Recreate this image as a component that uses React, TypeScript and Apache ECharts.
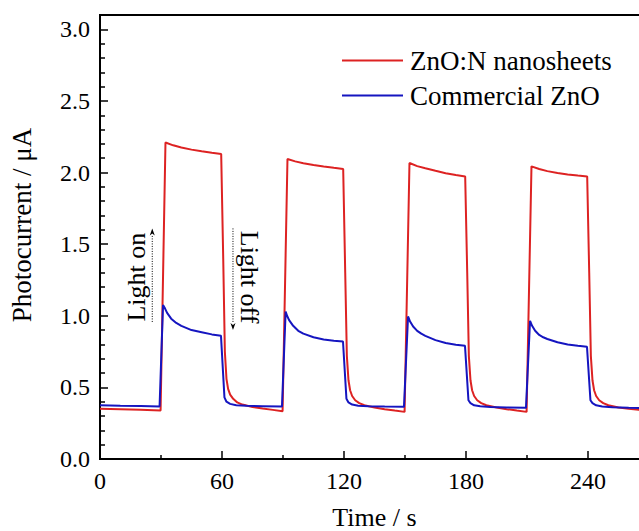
import React, { useEffect, useRef } from "react";
import * as echarts from "echarts";

// ZnO:N nanosheets (red)
const redTime = [
  0, 10, 20, 29.8, 32.2, 36, 40, 45, 50, 55, 59.6,
  60.6, 61.4, 62.2, 63, 64, 65.5, 67.5, 70, 75, 80, 85, 89.8,
  92.2, 96, 100, 105, 110, 115, 119.6,
  120.6, 121.4, 122.2, 123, 124, 125.5, 127.5, 130, 135, 140, 145, 149.8,
  152.2, 156, 160, 165, 170, 175, 179.6,
  180.6, 181.4, 182.2, 183, 184, 185.5, 187.5, 190, 195, 200, 205, 209.8,
  212.2, 216, 220, 225, 230, 235, 239.6,
  240.6, 241.4, 242.2, 243, 244, 245.5, 247.5, 250, 255, 260, 265, 270,
];
const redValue = [
  0.35, 0.347, 0.343, 0.338, 2.21, 2.19, 2.175, 2.16, 2.148, 2.138, 2.13,
  1.4, 0.75, 0.56, 0.49, 0.45, 0.42, 0.395, 0.38, 0.363, 0.352, 0.343, 0.334,
  2.095, 2.078, 2.065, 2.052, 2.042, 2.033, 2.025,
  1.3, 0.72, 0.55, 0.48, 0.44, 0.41, 0.39, 0.375, 0.36, 0.348, 0.338, 0.329,
  2.067, 2.045, 2.03, 2.012, 1.995, 1.983, 1.973,
  1.3, 0.72, 0.55, 0.48, 0.44, 0.41, 0.39, 0.375, 0.36, 0.348, 0.338, 0.329,
  2.043, 2.025, 2.01, 1.997, 1.987, 1.979, 1.973,
  1.3, 0.72, 0.55, 0.48, 0.44, 0.41, 0.39, 0.375, 0.36, 0.35, 0.343, 0.338,
];

// Commercial ZnO (blue)
const blueTime = [
  0, 10, 20, 29.3, 31, 32, 33, 35, 37.5, 40, 45, 50, 55, 59.5,
  61.2, 62.2, 64, 67, 72, 80, 89.5,
  91.3, 92, 93, 95, 97.5, 100, 105, 110, 115, 119.5,
  121.2, 122.2, 124, 127, 132, 140, 149.5,
  151.5, 152.5, 154, 156, 158, 160, 165, 170, 175, 179.5,
  181.2, 182.2, 184, 187, 192, 200, 209.5,
  211.5, 212.5, 214, 216, 218, 220, 225, 230, 235, 239.5,
  241.2, 242.2, 244, 247, 252, 260, 270,
];
const blueValue = [
  0.375, 0.372, 0.37, 0.367, 1.075, 1.05, 1.02, 0.98, 0.95, 0.93, 0.9, 0.885, 0.87, 0.86,
  0.43, 0.4, 0.385, 0.376, 0.371, 0.369, 0.366,
  1.03, 1.0, 0.97, 0.93, 0.895, 0.875, 0.85, 0.835, 0.825, 0.82,
  0.42, 0.395, 0.38, 0.372, 0.368, 0.366, 0.364,
  0.995, 0.96, 0.925, 0.895, 0.875, 0.86, 0.83, 0.81, 0.798, 0.79,
  0.41, 0.39, 0.375, 0.368, 0.363, 0.36, 0.357,
  0.965, 0.93, 0.895, 0.866, 0.85, 0.838, 0.815, 0.8, 0.79, 0.783,
  0.41, 0.39, 0.375, 0.367, 0.362, 0.358, 0.355,
];

const seriesNames = ["ZnO:N nanosheets", "Commercial ZnO"];
const seriesColors = ["#dd2222", "#1515c0"];

const xMin = 0;
const xMax = 270;
const xInterval = 60;
const yMin = 0;
const yMax = 3.1;
const yInterval = 0.5;

// annotations in data coordinates: [time, value]
const lightOnArrow = [[25.7, 0.957], [25.7, 1.609]];
const lightOffArrow = [[65.4, 1.61], [65.4, 0.9]];
const lightOnLabel = { text: "Light on", at: [17.8, 1.27] };
const lightOffLabel = { text: "Light off", at: [73.5, 1.27] };

const FONT = "Liberation Serif, Times New Roman, serif";

const zip = (t: number[], v: number[]) => t.map((x, i) => [x, v[i]]);

export default function App() {
  const ref = useRef<HTMLDivElement>(null);

  useEffect(() => {
    if (!ref.current) return;
    const chart = echarts.init(ref.current, undefined, { renderer: "svg" });
    const option: any = {
      animation: false,
      backgroundColor: "#ffffff",
      textStyle: { fontFamily: FONT },
      grid: {
        left: 100,
        top: 15,
        right: -10,
        bottom: 72,
        outerBoundsMode: "none",
        containLabel: false,
        show: true,
        borderColor: "#000",
        borderWidth: 2,
        backgroundColor: "transparent",
      },
      legend: {
        orient: "vertical",
        left: 337,
        top: 42,
        icon: "rect",
        itemWidth: 61,
        itemHeight: 2,
        itemGap: 8,
        data: seriesNames,
        textStyle: { fontFamily: FONT, fontSize: 27, color: "#000", padding: [0, 0, 0, 2] },
      },
      xAxis: {
        type: "value",
        min: xMin,
        max: xMax,
        interval: xInterval,
        name: "Time / s",
        nameLocation: "middle",
        nameGap: 45,
        nameTextStyle: { fontFamily: FONT, fontSize: 26, color: "#000" },
        axisLine: { onZero: false, lineStyle: { color: "#000", width: 2 } },
        axisTick: { inside: true, length: 8, lineStyle: { color: "#000", width: 1.5 } },
        minorTick: { show: true, splitNumber: 2, length: 4, lineStyle: { color: "#000", width: 1.5 } },
        splitLine: { show: false },
        axisLabel: {
          fontFamily: FONT,
          fontSize: 24,
          color: "#000",
          margin: 10,
          showMaxLabel: false,
          formatter: (v: number) => (v % xInterval === 0 ? String(v) : ""),
        },
      },
      yAxis: {
        type: "value",
        min: yMin,
        max: yMax,
        interval: yInterval,
        axisLine: { show: true, onZero: false, lineStyle: { color: "#000", width: 2 } },
        axisTick: { show: true, inside: true, length: 8, lineStyle: { color: "#000", width: 1.5 } },
        minorTick: { show: true, splitNumber: 5, length: 5, lineStyle: { color: "#000", width: 1.5 } },
        splitLine: { show: false },
        axisLabel: {
          fontFamily: FONT,
          fontSize: 24,
          color: "#000",
          margin: 10,
          showMaxLabel: false,
          formatter: (v: number) =>
            Math.abs(v / yInterval - Math.round(v / yInterval)) < 1e-6 ? v.toFixed(1) : "",
        },
      },
      series: [
        {
          name: seriesNames[0],
          type: "line",
          data: zip(redTime, redValue),
          symbol: "none",
          showSymbol: false,
          color: seriesColors[0],
          lineStyle: { color: seriesColors[0], width: 2 },
        },
        {
          name: seriesNames[1],
          type: "line",
          data: zip(blueTime, blueValue),
          symbol: "none",
          showSymbol: false,
          color: seriesColors[1],
          lineStyle: { color: seriesColors[1], width: 2 },
        },
      ],
    };
    chart.setOption(option);

    const px = (p: number[]) => chart.convertToPixel({ gridIndex: 0 }, p) as number[];
    const a1 = px(lightOnArrow[0]);
    const a2 = px(lightOnArrow[1]);
    const b1 = px(lightOffArrow[0]);
    const b2 = px(lightOffArrow[1]);
    const l1 = px(lightOnLabel.at);
    const l2 = px(lightOffLabel.at);
    const head = 7;
    const hw = 2.5;

    chart.setOption({
      graphic: [
        {
          type: "text",
          x: 22,
          y: 225,
          rotation: Math.PI / 2,
          style: {
            text: "Photocurrent / μA",
            fontFamily: FONT,
            fontSize: 27,
            fill: "#000",
            align: "center",
            verticalAlign: "middle",
          },
        },
        {
          type: "text",
          x: l1[0],
          y: l1[1],
          rotation: Math.PI / 2,
          style: {
            text: lightOnLabel.text,
            fontFamily: FONT,
            fontSize: 26,
            fill: "#000",
            align: "center",
            verticalAlign: "middle",
          },
        },
        {
          type: "text",
          x: l2[0],
          y: l2[1],
          rotation: -Math.PI / 2,
          style: {
            text: lightOffLabel.text,
            fontFamily: FONT,
            fontSize: 26,
            fill: "#000",
            align: "center",
            verticalAlign: "middle",
          },
        },
        {
          type: "line",
          shape: { x1: a1[0], y1: a1[1], x2: a2[0], y2: a2[1] + head },
          style: { stroke: "#000", lineWidth: 1, lineDash: [1, 1.5] },
        },
        {
          type: "polygon",
          shape: {
            points: [
              [a2[0], a2[1]],
              [a2[0] - hw, a2[1] + head],
              [a2[0], a2[1] + head - 2],
              [a2[0] + hw, a2[1] + head],
            ],
          },
          style: { fill: "#000" },
        },
        {
          type: "line",
          shape: { x1: b1[0], y1: b1[1], x2: b2[0], y2: b2[1] - head },
          style: { stroke: "#000", lineWidth: 1, lineDash: [1, 1.5] },
        },
        {
          type: "polygon",
          shape: {
            points: [
              [b2[0], b2[1]],
              [b2[0] - hw, b2[1] - head],
              [b2[0], b2[1] - head + 2],
              [b2[0] + hw, b2[1] - head],
            ],
          },
          style: { fill: "#000" },
        },
      ],
    });

    return () => chart.dispose();
  }, []);

  return (
    <div
      ref={ref}
      style={{ position: "fixed", left: 0, top: 0, width: 639, height: 531, background: "#fff" }}
    />
  );
}
